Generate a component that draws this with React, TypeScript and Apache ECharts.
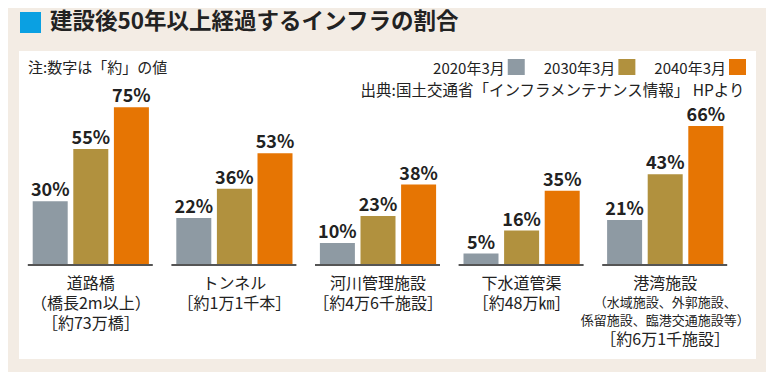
import React, { useEffect, useRef } from "react";
import * as echarts from "echarts";

const categories = [
  "{a|道路橋}\n{a|（橋長2m以上）}\n{a|［約73万橋］}",
  "{a|トンネル}\n{a|［約1万1千本］}",
  "{a|河川管理施設}\n{a|［約4万6千施設］}",
  "{a|下水道管渠}\n{a|［約48万㎞］}",
  "{a|港湾施設}\n{b|（水域施設、外郭施設、}\n{b|係留施設、臨港交通施設等）}\n{a|［約6万1千施設］}",
];
const seriesNames = ["2020年3月", "2030年3月", "2040年3月"];
const values2020 = [30, 22, 10, 5, 21];
const values2030 = [55, 36, 23, 16, 43];
const values2040 = [75, 53, 38, 35, 66];
const colors = ["#8e9aa3", "#b1913e", "#e67503"];

const FONT = "'Noto Sans CJK JP', 'Noto Sans', sans-serif";

export default function App() {
  const ref = useRef<HTMLDivElement>(null);
  useEffect(() => {
    if (!ref.current) return;
    const chart = echarts.init(ref.current, null, { renderer: "svg" });
    const barSeries = [values2020, values2030, values2040].map((vals, i) => ({
      name: seriesNames[i],
      type: "bar",
      data: vals,
      barWidth: 35,
      barGap: "16%",
      itemStyle: { color: colors[i] },
      label: {
        show: true,
        position: "top",
        distance: 4,
        formatter: "{c}%",
        fontFamily: FONT,
        fontWeight: "bold",
        fontSize: 18,
        color: "#222",
      },
      z: 3,
    }));
    chart.setOption({
      animation: false,
      backgroundColor: "#f3ece4",
      textStyle: { fontFamily: FONT },
      graphic: [
        { type: "rect", shape: { x: 19, y: 51, width: 737, height: 308 }, style: { fill: "#ffffff" }, z: -10 },
        { type: "rect", shape: { x: 20, y: 12, width: 21, height: 21 }, style: { fill: "#0aa0e2" } },
        {
          type: "text",
          left: 50,
          top: 8,
          style: { text: "建設後50年以上経過するインフラの割合", font: `bold 22.5px ${FONT}`, fill: "#222" },
        },
        {
          type: "text",
          left: 28,
          top: 59,
          style: { text: "注:数字は「約」の値", font: `15px ${FONT}`, fill: "#222" },
        },
        {
          type: "text",
          right: 28,
          top: 81,
          style: { text: "出典:国土交通省「インフラメンテナンス情報」 HPより", font: `15.5px ${FONT}`, fill: "#222" },
        },
      ],
      legend: {
        right: 28,
        top: 59,
        padding: 0,
        align: "right",
        itemWidth: 17,
        itemHeight: 16,
        itemGap: 19,
        icon: "rect",
        textStyle: { fontFamily: FONT, fontSize: 15, color: "#222", padding: [0, -2, 0, 0] },
        data: seriesNames,
      },
      grid: { left: 19, right: 37, top: 55, bottom: 116, containLabel: false },
      xAxis: {
        type: "category",
        data: categories,
        axisLine: { show: false },
        axisTick: { show: false },
        axisLabel: {
          interval: 0,
          margin: 8,
          color: "#222",
          rich: {
            a: { fontFamily: FONT, fontSize: 16, lineHeight: 20, color: "#222" },
            b: { fontFamily: FONT, fontSize: 13, lineHeight: 18, color: "#222" },
          },
        },
      },
      yAxis: { type: "value", min: 0, max: 100, show: false, splitLine: { show: false } },
      series: [
        ...barSeries,
        {
          type: "custom",
          data: categories.map((_, i) => [i, 0]),
          z: 5,
          silent: true,
          renderItem: (params: any, api: any) => {
            const p = api.coord([api.value(0), 0]);
            return {
              type: "line",
              shape: { x1: p[0] - 63, y1: p[1] + 1, x2: p[0] + 62, y2: p[1] + 1 },
              style: { stroke: "#555", lineWidth: 2 },
            };
          },
        },
      ],
    });
    return () => chart.dispose();
  }, []);
  return <div ref={ref} style={{ width: 774, height: 380, margin: -8 }} />;
}
